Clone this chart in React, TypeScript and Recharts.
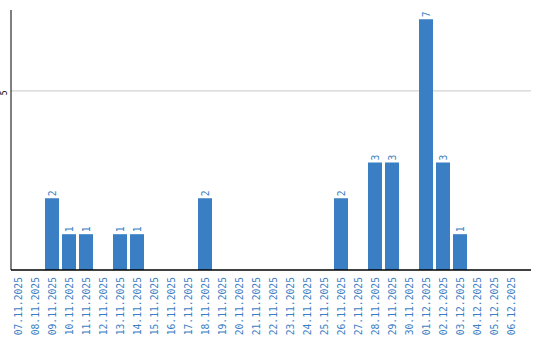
import React from 'react';
import { BarChart, Bar, XAxis, YAxis, CartesianGrid, LabelList } from 'recharts';

const dates = [
  '07.11.2025','08.11.2025','09.11.2025','10.11.2025','11.11.2025','12.11.2025','13.11.2025','14.11.2025','15.11.2025','16.11.2025',
  '17.11.2025','18.11.2025','19.11.2025','20.11.2025','21.11.2025','22.11.2025','23.11.2025','24.11.2025','25.11.2025','26.11.2025',
  '27.11.2025','28.11.2025','29.11.2025','30.11.2025','01.12.2025','02.12.2025','03.12.2025','04.12.2025','05.12.2025','06.12.2025',
];
const counts = [0,0,2,1,1,0,1,1,0,0, 0,2,0,0,0,0,0,0,0,2, 0,3,3,0,7,3,1,0,0,0];
const yTicks = [5];
const yMax = 7.26;

const data = dates.map((d, i) => ({ date: d, value: counts[i] }));

const W = 540;
const H = 340;
const TOP = 10;
const XH = 70;
const PLOT_H = H - TOP - XH;

const BLUE = '#3a7ec4';
const FONT = '"DejaVu Sans Mono", "Liberation Mono", monospace';

const XTick = (props: any) => {
  const { x, y, payload } = props;
  return (
    <text
      x={0}
      y={0}
      transform={`translate(${x},${y - 1}) rotate(-90)`}
      textAnchor="end"
      dominantBaseline="central"
      fill={BLUE}
      fontSize={9.7}
      fontFamily={FONT}
    >
      {payload.value}
    </text>
  );
};

const YTick = (props: any) => {
  const { y, payload } = props;
  return (
    <text
      x={0}
      y={0}
      transform={`translate(4,${y + 2}) rotate(-90)`}
      textAnchor="middle"
      dominantBaseline="central"
      fill="#000"
      fontSize={8}
      fontFamily={FONT}
    >
      {payload.value}
    </text>
  );
};

const BarLabel = (props: any) => {
  const { x, y, width, value } = props;
  if (!value) return null;
  const cx = x + width / 2;
  return (
    <text
      x={0}
      y={0}
      transform={`translate(${cx},${y - 2}) rotate(-90)`}
      textAnchor="start"
      dominantBaseline="central"
      fill={BLUE}
      fontSize={9.7}
      fontFamily={FONT}
    >
      {value}
    </text>
  );
};

const gridPoints = yTicks.map((t) => TOP + PLOT_H * (1 - t / yMax));

export default function App() {
  return (
    <div style={{ position: 'absolute', left: 0, top: 0, width: W, height: H, background: '#fff' }}>
      <BarChart
        width={W}
        height={H}
        data={data}
        margin={{ top: TOP, right: 9, left: 0, bottom: 0 }}
        barCategoryGap={1.5}
      >
        <CartesianGrid vertical={false} stroke="#c8c8c8" horizontalPoints={gridPoints} />
        <XAxis
          dataKey="date"
          interval={0}
          height={XH}
          tick={<XTick />}
          tickLine={false}
          axisLine={{ stroke: '#000', strokeWidth: 1.5 }}
          padding={{ left: -1.5, right: 11.5 }}
        />
        <YAxis
          width={11}
          domain={[0, yMax]}
          ticks={yTicks}
          tick={<YTick />}
          tickLine={false}
          axisLine={{ stroke: '#000', strokeWidth: 1 }}
          allowDataOverflow
        />
        <Bar dataKey="value" fill={BLUE} isAnimationActive={false}>
          <LabelList dataKey="value" content={<BarLabel />} />
        </Bar>
      </BarChart>
    </div>
  );
}
